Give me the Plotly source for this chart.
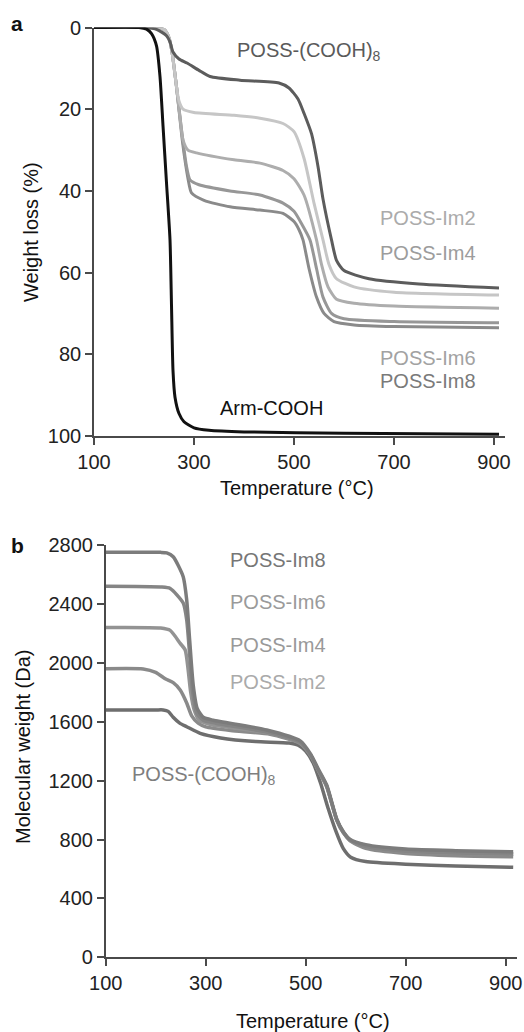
import plotly.graph_objects as go

W, H = 524, 1032
FONT = "Liberation Sans, Arial, sans-serif"

# ---------------- Panel a: weight loss (%) vs temperature ----------------
a_arm_T = [100, 190, 205, 215, 225, 232, 238, 245, 252, 255, 258, 262, 270, 280, 300, 330, 400, 600, 910]
a_arm_W = [0, 0, 0.4, 1.5, 4.5, 12, 24, 38, 52, 68, 84, 90.5, 94.5, 96.5, 98, 98.6, 99, 99.3, 99.6]

a_cooh_T = [100, 200, 226, 245, 252, 258, 270, 286, 310, 332, 392, 470, 490, 508, 520, 535, 548, 558, 575, 585, 600, 650, 750, 910]
a_cooh_W = [0, 0, 0.5, 2, 3.5, 6, 7.7, 8.7, 10.5, 12, 12.9, 13.6, 14.8, 17.5, 21, 26, 34, 42, 52, 57, 59.5, 61.5, 62.8, 63.8]

a_im2_T = [100, 225, 240, 250, 256, 265, 270, 278, 300, 380, 432, 478, 500, 520, 540, 558, 570, 585, 620, 700, 910]
a_im2_W = [0, 0, 0.5, 2.5, 6, 14.5, 18, 20, 20.8, 21.5, 22.2, 23.5, 25.5, 32, 43, 52, 58, 61.5, 63.5, 64.8, 65.5]

a_im4_T = [100, 225, 240, 250, 256, 265, 272, 278, 288, 305, 380, 432, 478, 500, 520, 545, 555, 568, 585, 620, 700, 910]
a_im4_W = [0, 0, 0.5, 2.5, 6, 14.5, 22, 27.5, 30, 30.7, 32.4, 33.2, 35, 37, 41, 52, 58, 63.5, 66.5, 67.5, 68.2, 68.7]

a_im6_T = [100, 225, 240, 250, 256, 265, 275, 285, 292, 310, 372, 432, 478, 500, 515, 532, 545, 558, 575, 600, 700, 910]
a_im6_W = [0, 0, 0.5, 2.5, 6, 14.5, 25, 34, 37.3, 38.5, 40, 41, 43, 45, 48, 52, 59, 66, 70, 71.3, 72, 72.3]

a_im8_T = [100, 225, 240, 250, 256, 265, 277, 288, 295, 320, 372, 432, 478, 500, 510, 518, 530, 545, 560, 580, 620, 700, 910]
a_im8_W = [0, 0, 0.5, 2.5, 6, 14.5, 28, 37, 40.5, 42.3, 43.9, 44.7, 45.5, 47.5, 49.5, 52, 59, 66, 70, 72, 72.8, 73.2, 73.5]

# ---------------- Panel b: molecular weight (Da) vs temperature ----------------
b_cooh_T = [100, 200, 215, 225, 235, 248, 262, 289, 330, 400, 467, 485, 500, 515, 530, 545, 560, 575, 590, 620, 700, 800, 915]
b_cooh_M = [1680, 1680, 1680, 1670, 1630, 1590, 1566, 1521, 1490, 1465, 1455, 1440, 1400, 1320, 1180, 1010, 860, 740, 680, 650, 632, 620, 611]

b_im2_T = [100, 175, 200, 220, 235, 249, 262, 272, 285, 300, 350, 429, 489, 510, 525, 542, 562, 575, 589, 620, 700, 800, 915]
b_im2_M = [1960, 1958, 1935, 1890, 1865, 1815, 1727, 1640, 1590, 1565, 1540, 1515, 1452, 1370, 1270, 1160, 935, 850, 790, 740, 705, 690, 683]

b_im4_T = [100, 210, 229, 249, 259, 265, 270, 277, 287, 310, 350, 429, 489, 510, 525, 542, 562, 575, 589, 620, 700, 800, 915]
b_im4_M = [2240, 2236, 2220, 2132, 2087, 1950, 1800, 1680, 1610, 1580, 1560, 1522, 1455, 1370, 1270, 1160, 932, 848, 795, 750, 718, 706, 700]

b_im6_T = [100, 210, 229, 255, 262, 268, 274, 282, 295, 320, 429, 489, 510, 525, 542, 562, 575, 589, 620, 700, 800, 915]
b_im6_M = [2520, 2515, 2505, 2406, 2291, 2050, 1800, 1660, 1610, 1590, 1525, 1458, 1372, 1272, 1162, 934, 849, 796, 752, 720, 708, 702]

b_im8_T = [100, 210, 222, 235, 255, 262, 268, 275, 283, 295, 315, 422, 489, 510, 525, 542, 562, 575, 589, 620, 700, 800, 915]
b_im8_M = [2750, 2750, 2746, 2720, 2585, 2427, 2150, 1850, 1690, 1630, 1610, 1544, 1470, 1380, 1280, 1170, 940, 855, 800, 765, 735, 724, 717]

# tick labels
x_ticks = [100, 300, 500, 700, 900]
a_y_ticks = [0, 20, 40, 60, 80, 100]
b_y_ticks = [0, 400, 800, 1200, 1600, 2000, 2400, 2800]

fig = go.Figure()

def add(x, y, color, width, xa, ya):
    fig.add_trace(go.Scatter(
        x=x, y=y, mode="lines", xaxis=xa, yaxis=ya,
        line=dict(color=color, width=width, shape="spline", smoothing=0.6),
        showlegend=False, hoverinfo="skip"))

# Panel a (draw light first, dark on top)
add(a_im8_T, a_im8_W, "#8a8a8a", 3, "x", "y")
add(a_im6_T, a_im6_W, "#979797", 3, "x", "y")
add(a_im4_T, a_im4_W, "#adadad", 3, "x", "y")
add(a_im2_T, a_im2_W, "#c6c6c6", 3, "x", "y")
add(a_cooh_T, a_cooh_W, "#5c5c5c", 3, "x", "y")
add(a_arm_T, a_arm_W, "#111111", 3, "x", "y")

# Panel b
add(b_cooh_T, b_cooh_M, "#6e6e6e", 3.5, "x2", "y2")
add(b_im2_T, b_im2_M, "#8a8a8a", 3.5, "x2", "y2")
add(b_im4_T, b_im4_M, "#939393", 3.5, "x2", "y2")
add(b_im6_T, b_im6_M, "#858585", 3.5, "x2", "y2")
add(b_im8_T, b_im8_M, "#7c7c7c", 3.5, "x2", "y2")

def px_x(p):
    return p / W

def px_y(p):
    return 1 - p / H

axis_common = dict(
    showgrid=False, zeroline=False, showline=True, linecolor="#4a4a4a", linewidth=1.6,
    ticks="outside", ticklen=7, tickwidth=1.6, tickcolor="#4a4a4a", automargin=False,
    tickfont=dict(family=FONT, size=20, color="#222222"), fixedrange=True,
)

fig.update_layout(
    width=W, height=H,
    margin=dict(l=0, r=0, t=0, b=0, autoexpand=False),
    paper_bgcolor="white", plot_bgcolor="white",
    font=dict(family=FONT, size=20, color="#222222"),
    xaxis=dict(domain=[px_x(94), px_x(505)], range=[100, 922], tickvals=x_ticks,
               anchor="y", **axis_common),
    yaxis=dict(domain=[px_y(436), px_y(27.5)], range=[100, 0], tickvals=a_y_ticks,
               anchor="x", **axis_common),
    xaxis2=dict(domain=[px_x(105.7), px_x(516.7)], range=[100, 922], tickvals=x_ticks,
                anchor="y2", **axis_common),
    yaxis2=dict(domain=[px_y(957.3), px_y(545)], range=[0, 2800], tickvals=b_y_ticks,
                anchor="x2", **axis_common),
)

ann = []

def label(text, x, y, color, xref, yref, xanchor="left"):
    ann.append(dict(text=text, x=x, y=y, xref=xref, yref=yref, showarrow=False,
                    xanchor=xanchor, yanchor="middle",
                    font=dict(family=FONT, size=20, color=color)))

# Panel a curve labels
label("POSS-(COOH)<sub>8</sub>", 382, 5.8, "#5a5a5a", "x", "y")
label("POSS-Im2", 668, 46.6, "#ababab", "x", "y")
label("POSS-Im4", 668, 55.2, "#9c9c9c", "x", "y")
label("POSS-Im6", 668, 80.8, "#a2a2a2", "x", "y")
label("POSS-Im8", 668, 86.6, "#7a7a7a", "x", "y")
label("Arm-COOH", 348, 93.1, "#111111", "x", "y")

# Panel b curve labels
label("POSS-Im8", 345, 2698, "#767676", "x2", "y2")
label("POSS-Im6", 345, 2415, "#9a9a9a", "x2", "y2")
label("POSS-Im4", 345, 2121, "#999999", "x2", "y2")
label("POSS-Im2", 345, 1872, "#aaaaaa", "x2", "y2")
label("POSS-(COOH)<sub>8</sub>", 149, 1238, "#7e7e7e", "x2", "y2")

# Axis titles and panel letters (paper coordinates)
def paper_text(text, x, y, angle=0, bold=False, size=20):
    ann.append(dict(text=f"<b>{text}</b>" if bold else text,
                    x=px_x(x), y=px_y(y), xref="paper", yref="paper",
                    showarrow=False, xanchor="center", yanchor="middle", textangle=angle,
                    font=dict(family=FONT, size=size, color="#111111")))

paper_text("Weight loss (%)", 31, 232, angle=-90)
paper_text("Temperature (°C)", 297, 488)
paper_text("Molecular weight (Da)", 23, 747, angle=-90)
paper_text("Temperature (°C)", 313, 1021)
paper_text("a", 17, 23, bold=True, size=21)
paper_text("b", 17, 545, bold=True, size=21)

fig.update_layout(annotations=ann)

fig.write_html(
    "out.html",
    config={"displayModeBar": False},
    post_script="document.body.style.margin='0';document.body.style.padding='0';",
)
